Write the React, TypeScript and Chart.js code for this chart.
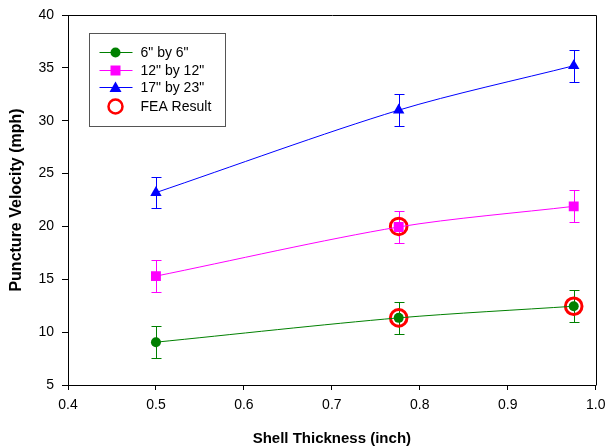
import React, { useEffect, useRef } from "react";
import { Chart, registerables } from "chart.js";
Chart.register(...registerables);

const thickness = [0.5, 0.776, 0.975];
const v6 = [9.05, 11.35, 12.45];
const v12 = [15.3, 19.95, 21.9];
const v17 = [23.2, 31.0, 35.2];
const err6 = [1.5, 1.5, 1.5];
const err12 = [1.5, 1.5, 1.5];
const err17 = [1.5, 1.5, 1.5];
const feaX = [0.776, 0.776, 0.975];
const feaY = [20.0, 11.35, 12.45];
const xTicks = [0.4, 0.5, 0.6, 0.7, 0.8, 0.9, 1.0];
const yTicks = [5, 10, 15, 20, 25, 30, 35, 40];
const legendLabels = ['6" by 6"', '12" by 12"', '17" by 23"', "FEA Result"];

const FONT = "'Liberation Sans', Arial, sans-serif";
const GREEN = "#008000";
const MAGENTA = "#ff00ff";
const BLUE = "#0000ff";
const RED = "#ff0000";

const seriesValues = [v6, v12, v17];
const errs = [err6, err12, err17];
const seriesColors = [GREEN, MAGENTA, BLUE];

const errorBarPlugin = {
  id: "errorBars",
  beforeDatasetsDraw(chart: any) {
    const ctx = chart.ctx;
    const xs = chart.scales.x;
    const ys = chart.scales.y;
    for (let d = 0; d < 3; d++) {
      const vals = seriesValues[d];
      const e = errs[d];
      ctx.save();
      ctx.strokeStyle = seriesColors[d];
      ctx.lineWidth = 1;
      thickness.forEach((t, i) => {
        const x = Math.round(xs.getPixelForValue(t)) + 0.5;
        const yt = Math.round(ys.getPixelForValue(vals[i] + e[i])) + 0.5;
        const yb = Math.round(ys.getPixelForValue(vals[i] - e[i])) + 0.5;
        ctx.beginPath();
        ctx.moveTo(x, yt);
        ctx.lineTo(x, yb);
        ctx.moveTo(x - 5, yt);
        ctx.lineTo(x + 5, yt);
        ctx.moveTo(x - 5, yb);
        ctx.lineTo(x + 5, yb);
        ctx.stroke();
      });
      ctx.restore();
    }
  },
  afterDraw(chart: any) {
    const ctx = chart.ctx;
    const a = chart.chartArea;
    ctx.save();
    ctx.strokeStyle = "#000";
    ctx.lineWidth = 1;
    ctx.beginPath();
    ctx.moveTo(Math.round(a.left) + 0.5, Math.round(a.top) + 0.5);
    ctx.lineTo(Math.round(a.right) + 0.5, Math.round(a.top) + 0.5);
    ctx.lineTo(Math.round(a.right) + 0.5, Math.round(a.bottom) + 0.5);
    ctx.stroke();

    // legend
    const bx = a.left + 21.5;
    const by = a.top + 18.5;
    const bw = 136;
    const bh = 93;
    ctx.strokeStyle = "#555";
    ctx.strokeRect(bx, by, bw, bh);
    const rows = [by + 19, by + 37, by + 54, by + 73];
    const cx = bx + 26;
    ctx.font = `14px ${FONT}`;
    ctx.textBaseline = "middle";
    ctx.textAlign = "left";
    for (let i = 0; i < 3; i++) {
      const y = rows[i];
      ctx.strokeStyle = seriesColors[i];
      ctx.fillStyle = seriesColors[i];
      ctx.lineWidth = 1;
      ctx.beginPath();
      ctx.moveTo(cx - 16, y);
      ctx.lineTo(cx + 17, y);
      ctx.stroke();
      ctx.beginPath();
      if (i === 0) {
        ctx.arc(cx, y, 5, 0, Math.PI * 2);
      } else if (i === 1) {
        ctx.rect(cx - 5, y - 5, 10, 10);
      } else {
        ctx.moveTo(cx, y - 6);
        ctx.lineTo(cx + 6, y + 4.5);
        ctx.lineTo(cx - 6, y + 4.5);
        ctx.closePath();
      }
      ctx.fill();
    }
    ctx.strokeStyle = RED;
    ctx.lineWidth = 2.5;
    ctx.beginPath();
    ctx.arc(cx, rows[3], 7, 0, Math.PI * 2);
    ctx.stroke();
    ctx.fillStyle = "#000";
    legendLabels.forEach((t, i) => ctx.fillText(t, bx + 51, rows[i] + 1));
    ctx.restore();
  },
};

export default function App() {
  const ref = useRef<HTMLCanvasElement>(null);
  useEffect(() => {
    document.body.style.margin = "0";
    const toPts = (ys: number[]) => thickness.map((x, i) => ({ x, y: ys[i] }));
    const mk = (label: string, ys: number[], color: string, style: string, r: number) => ({
      label,
      data: toPts(ys),
      borderColor: color,
      backgroundColor: color,
      borderWidth: 1,
      pointStyle: style,
      pointRadius: r,
      pointBorderWidth: 0,
      pointBackgroundColor: color,
      tension: 0.3,
      showLine: true,
    });
    const chart = new Chart(ref.current!, {
      type: "scatter",
      data: {
        datasets: [
          mk('17" by 23"', v17, BLUE, "triangle", 6.6),
          mk('12" by 12"', v12, MAGENTA, "rect", 7),
          mk('6" by 6"', v6, GREEN, "circle", 5),
          {
            label: "FEA Result",
            data: feaX.map((x, i) => ({ x, y: feaY[i] })),
            borderColor: RED,
            backgroundColor: "rgba(0,0,0,0)",
            pointRadius: 8.3,
            pointBorderWidth: 3,
            pointBorderColor: RED,
            pointBackgroundColor: "rgba(0,0,0,0)",
            showLine: false,
          } as any,
        ],
      },
      options: {
        animation: false,
        responsive: false,
        devicePixelRatio: 1,
        layout: { padding: { top: 15, right: 11, left: 0, bottom: 0 } },
        plugins: { legend: { display: false }, tooltip: { enabled: false } },
        scales: {
          x: {
            type: "linear",
            min: 0.4,
            max: 1.0,
            afterBuildTicks: (s: any) => {
              s.ticks = xTicks.map((v) => ({ value: v }));
            },
            afterFit: (s: any) => {
              s.height = 63;
              s.paddingLeft = 0;
              s.paddingRight = 0;
            },
            grid: { display: true, drawOnChartArea: false, drawTicks: true, tickLength: 5, color: "#000" },
            border: { display: true, color: "#000", width: 1 },
            ticks: {
              color: "#000",
              font: { family: FONT, size: 14 },
              padding: 7,
              maxRotation: 0,
              callback: (v: any) => Number(v).toFixed(1),
            },
            title: {
              display: true,
              text: "Shell Thickness (inch)",
              color: "#000",
              font: { family: FONT, size: 15, weight: "bold" },
              padding: { top: 8, bottom: 0 },
            },
          },
          y: {
            type: "linear",
            min: 5,
            max: 40,
            afterBuildTicks: (s: any) => {
              s.ticks = yTicks.map((v) => ({ value: v }));
            },
            afterFit: (s: any) => {
              s.width = 68;
              s.paddingTop = 0;
              s.paddingBottom = 0;
            },
            grid: { display: true, drawOnChartArea: false, drawTicks: true, tickLength: 6, color: "#000" },
            border: { display: true, color: "#000", width: 1 },
            ticks: {
              color: "#000",
              font: { family: FONT, size: 14 },
              padding: 8,
            },
            title: {
              display: true,
              text: "Puncture Velocity (mph)",
              color: "#000",
              font: { family: FONT, size: 16, weight: "bold" },
              padding: { top: 7, bottom: 4 },
            },
          },
        },
      },
      plugins: [errorBarPlugin],
    } as any);
    return () => chart.destroy();
  }, []);
  return (
    <div style={{ width: 607, height: 448, background: "#fff" }}>
      <canvas ref={ref} width={607} height={448} />
    </div>
  );
}
